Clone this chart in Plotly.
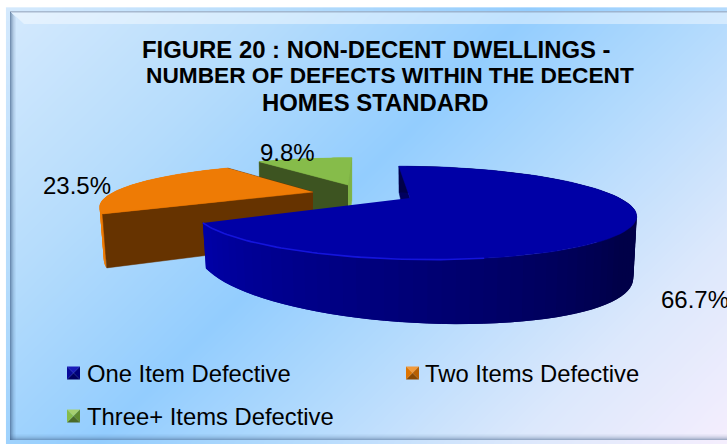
import math
import numpy as np
import plotly.graph_objects as go

CATEGORIES = ["One Item Defective", "Two Items Defective", "Three+ Items Defective"]
VALUES = [66.7, 23.5, 9.8]
LABELS = ["66.7%", "23.5%", "9.8%"]
TITLE_LINES = ["FIGURE 20 : NON-DECENT DWELLINGS -", "NUMBER OF DEFECTS WITHIN THE DECENT", "HOMES STANDARD"]

W, H = 727, 444
K = 0.319

# exploded-slice placement in the picture: apex, foreshortening, shear, thickness
SLICE_GEOM = [
    dict(ax=410, ay=198, B=209.4, C=-14.7, A=42, T=45, S=19, D=10.3, shrink=0.985),
    dict(ax=313, ay=192, B=199, C=9, A=37, T=50, S=8, D=0, shrink=0.98),
    dict(ax=348, ay=185, B=201, C=5, A=36, T=46, S=3, D=0, shrink=0.99),
]
SLICE_STYLE = [
    dict(top="#0000A6", cut="#00005E", cut2="#00005E", rim0=(0, 0, 72), rim1=(0, 0, 170), hi="#1414DC", cuts_first=True),
    dict(top="#EE7B05", cut="#663300", cut2="#663300", rim0=(238, 123, 5), rim1=(238, 123, 5), hi="#F08A18", cuts_first=False),
    dict(top="#86BC4A", cut="#3D5421", cut2="#7FB246", rim0=(134, 188, 74), rim1=(134, 188, 74), hi="#96C85C", cuts_first=False),
]
SWATCH = [
    dict(x=67, y=373, c=("#1A1AB8", "#00007A", "#000060", "#0A0A9A")),
    dict(x=406, y=373, c=("#F29A3A", "#B85F00", "#8A4800", "#DE7400")),
    dict(x=67, y=416, c=("#A6D070", "#5F8A30", "#4A6A28", "#86BC4A")),
]
LEGEND_POS = [(85, 373), (423, 373), (85, 416)]
LABEL_POS = [(659, 299), (41, 185), (258, 152)]
TITLE_POS = [(376.5, 49), (390, 75), (375, 102)]
TITLE_SIZES = [23.9, 22.7, 23.9]


def proj(g, deg, low=False):
    t = np.radians(deg)
    u, v = np.sin(t), np.cos(t)
    w = 1 + K * v
    x = (g["B"] * u + g["C"] * v) / w
    y = -g["A"] * v / w
    if low:
        return g["ax"] + x * g["shrink"], g["ay"] + y + g["T"] - g["S"] * v + g["D"] * u
    return g["ax"] + x, g["ay"] + y


def apex(g, low=False):
    return g["ax"], g["ay"] + (g["T"] if low else 0)


def poly(xs, ys, color, lw=0.5):
    return go.Scatter(
        x=list(xs), y=list(ys), mode="lines", fill="toself", fillcolor=color,
        line=dict(color=color, width=lw),
        hoverinfo="skip", showlegend=False,
    )


fig = go.Figure()

# background: diagonal gradient
gx = np.linspace(10, W, 90)
gy = np.linspace(11, 441, 60)
X, Y = np.meshgrid(gx, gy)
Z = (X / W * 0.62 + Y / H * 0.38)
fig.add_trace(go.Heatmap(
    x=gx, y=gy, z=Z, zmin=0, zmax=1, zsmooth="best", showscale=False, hoverinfo="skip",
    colorscale=[[0, "#D6EAFD"], [0.25, "#B5DCFC"], [0.46, "#93CDFE"], [0.62, "#B2DAFD"],
                [0.82, "#DCE8FC"], [1, "#F5EEFD"]],
))

# bevel of the chart area
fig.add_trace(poly([10, W, W, 24, 10], [11, 11, 24, 24, 11], "rgba(255,255,255,0.42)", 0))
fig.add_trace(poly([10, W, W, 10], [11, 11, 12.5, 12.5], "rgba(120,140,170,0.55)", 0))
for i, a in enumerate([0.62, 0.45, 0.32, 0.2, 0.12, 0.06]):
    fig.add_trace(poly([10 + i, 11 + i, 11 + i, 10 + i], [12 + i, 12 + i, 440, 440],
                       f"rgba(60,90,130,{a})", 0))
for i, a in enumerate([0.04, 0.08, 0.14, 0.22, 0.32, 0.45]):
    fig.add_trace(poly([10, W, W, 10], [434 + i, 434 + i, 435 + i, 435 + i],
                       f"rgba(60,90,130,{a})", 0))

# slices, far to near
angles = np.cumsum([0] + VALUES) * 3.6
for idx in [2, 1, 0]:
    g, s = SLICE_GEOM[idx], SLICE_STYLE[idx]
    a0, a1 = angles[idx], angles[idx + 1]
    arc = np.linspace(a0, a1, 90)
    ax, ay = apex(g)
    lx, ly = apex(g, True)

    def cut(ang, col):
        p = proj(g, ang)
        q = proj(g, ang, True)
        fig.add_trace(poly([ax, p[0], q[0], lx], [ay, p[1], q[1], ly], col))

    if s["cuts_first"]:
        cut(a0, s["cut"])

    # rim, as narrow overlapping quads so that it can shade without seams
    for j in range(len(arc) - 1):
        e = min(j + 2, len(arc) - 1)
        tx0, ty0 = proj(g, arc[j])
        tx1, ty1 = proj(g, arc[e])
        bx0, by0 = proj(g, arc[j], True)
        bx1, by1 = proj(g, arc[e], True)
        f = min(1, max(0, (arc[j] - 130) / 110))
        r = [int(p + (q - p) * f) for p, q in zip(s["rim0"], s["rim1"])]
        fig.add_trace(poly([tx0, tx1, bx1, bx0], [ty0, ty1, by1, by0], f"rgb({r[0]},{r[1]},{r[2]})", 0))

    if not s["cuts_first"]:
        cut(a1, s["cut2"])
        cut(a0, s["cut"])

    # top
    xs, ys = proj(g, arc)
    fig.add_trace(poly([ax, *xs], [ay, *ys], s["top"]))

    # bright rounded edge of the near rim
    if idx == 0:
        hi = np.linspace(170, a1, 60)
        hx, hy = proj(g, hi)
        fig.add_trace(go.Scatter(x=hx, y=hy, mode="lines", hoverinfo="skip", showlegend=False,
                                 line=dict(color=s["hi"], width=1.6)))

# legend swatches, with pyramid shading
for sw in SWATCH:
    x, y, c = sw["x"], sw["y"], sw["c"]
    h = 6.5
    cx, cy = x + h, y
    corners = [(x, y - h), (x + 2 * h, y - h), (x + 2 * h, y + h), (x, y + h)]
    for i in range(4):
        a, b = corners[i], corners[(i + 1) % 4]
        fig.add_trace(poly([a[0], b[0], cx], [a[1], b[1], cy], c[i], 0))

FONT = "Liberation Sans, Arial, sans-serif"
for name, (x, y) in zip(CATEGORIES, LEGEND_POS):
    fig.add_annotation(x=x, y=y, text=name, showarrow=False, xanchor="left", yanchor="middle",
                       xref="x", yref="y", font=dict(family=FONT, size=23.8, color="#000000"))
for lab, (x, y) in zip(LABELS, LABEL_POS):
    fig.add_annotation(x=x, y=y, text=lab, showarrow=False, xanchor="left", yanchor="middle",
                       xref="x", yref="y", font=dict(family=FONT, size=24, color="#000000"))
for line, (x, y), size in zip(TITLE_LINES, TITLE_POS, TITLE_SIZES):
    fig.add_annotation(x=x, y=y, text="<b>" + line + "</b>", showarrow=False, xanchor="center", yanchor="middle",
                       xref="x", yref="y", font=dict(family=FONT, size=size, color="#000000"))

fig.update_layout(
    width=W, height=H, margin=dict(l=0, r=0, t=0, b=0),
    paper_bgcolor="#FFFFFF", plot_bgcolor="#FFFFFF", showlegend=False,
    xaxis=dict(range=[0, W], visible=False, fixedrange=True),
    yaxis=dict(range=[H, 0], visible=False, fixedrange=True),
)
fig.write_html("out.html", post_script="document.body.style.margin='0';document.body.style.overflow='hidden';",
               config={"displayModeBar": False})
